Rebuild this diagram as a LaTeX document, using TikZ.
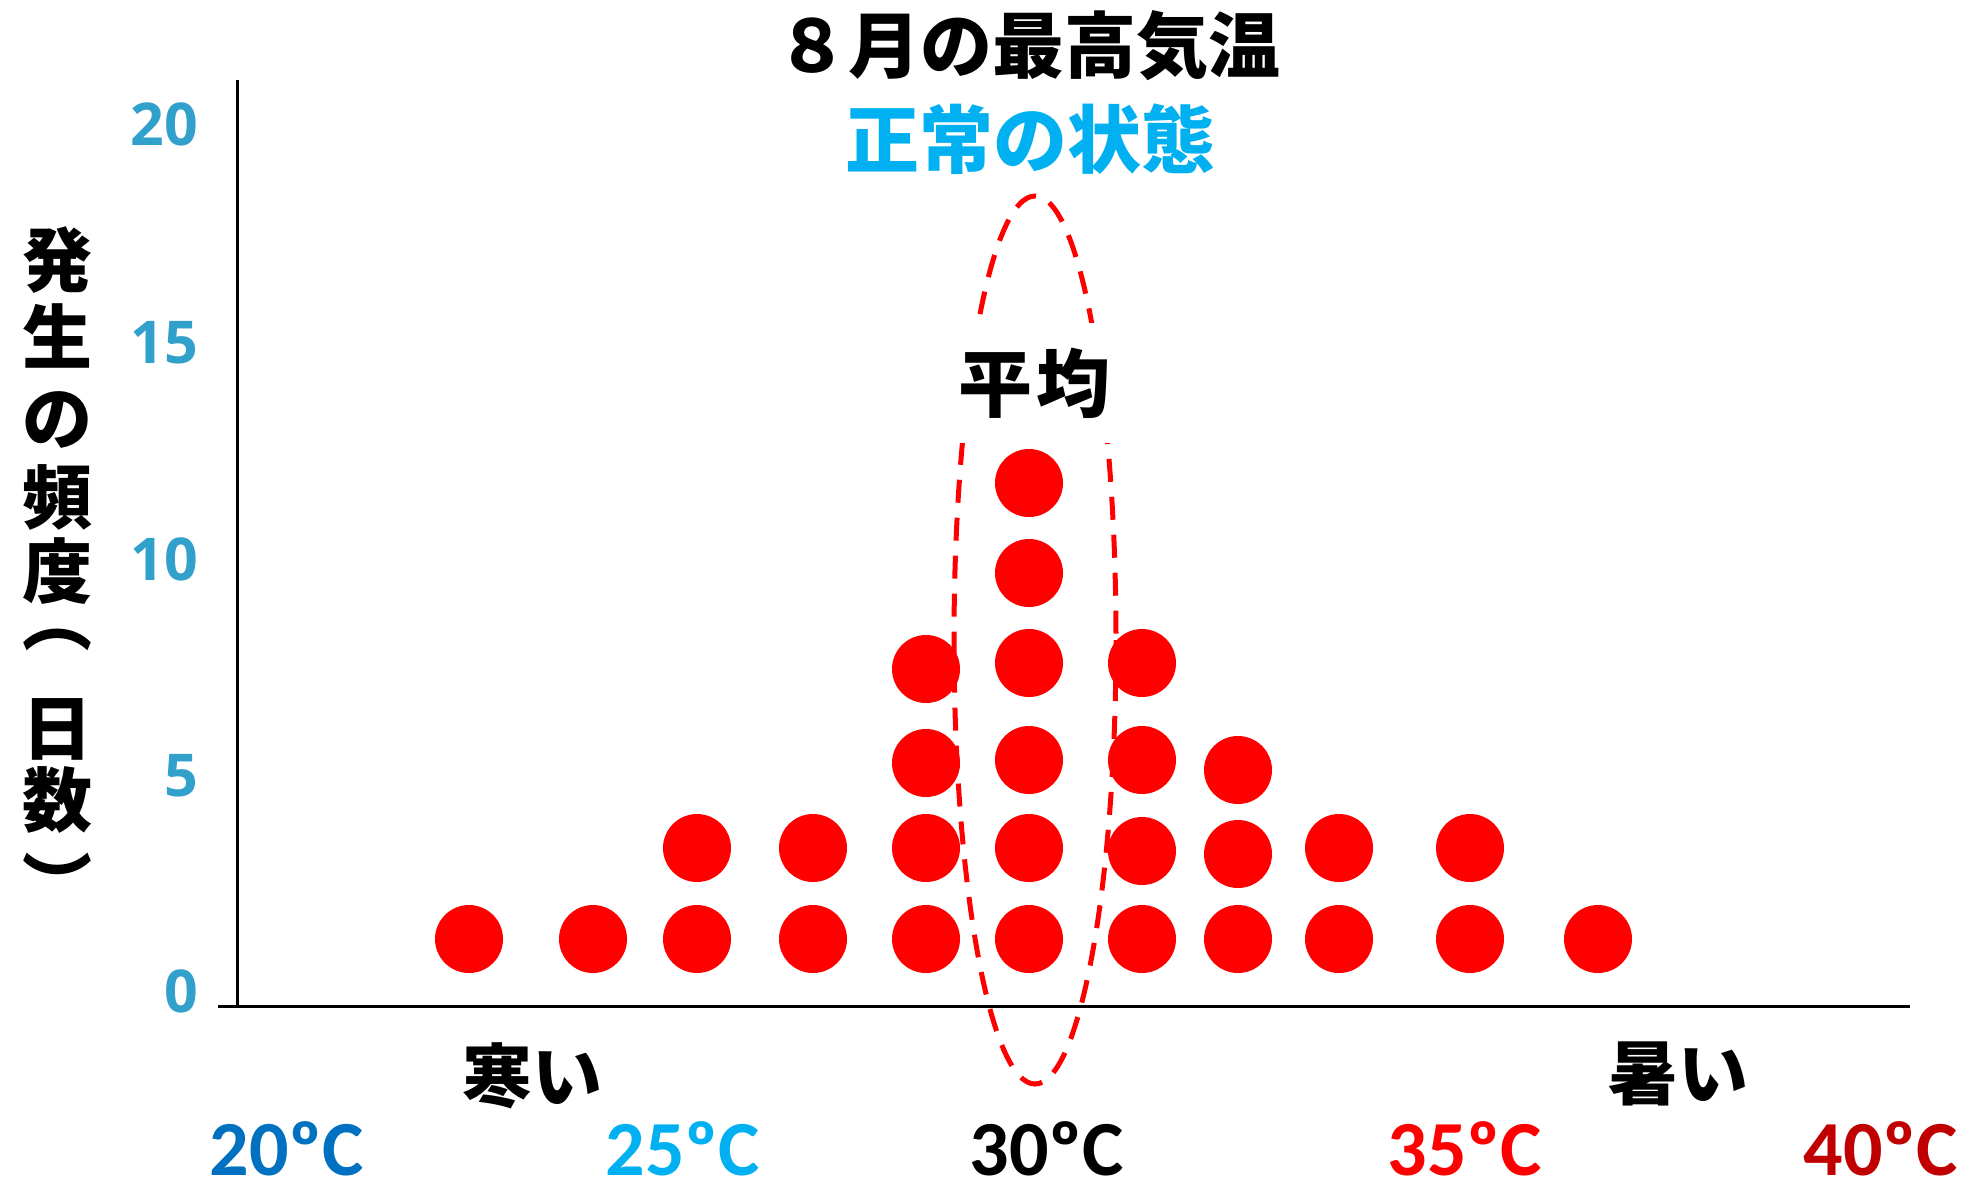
\documentclass[tikz,border=0pt]{standalone}
\usepackage{fontspec}
\newfontfamily\jp{Noto Sans CJK JP}
\newfontfamily\num{Carlito}
\newfontfamily\ticknum{Open Sans}
\definecolor{tickblue}{HTML}{31A0CB}
\definecolor{skycyan}{HTML}{00B0F0}
\definecolor{darkblue}{HTML}{0070C0}
\definecolor{darkred}{HTML}{C00000}
\definecolor{pure red}{HTML}{FF0000}
\tikzset{
  dot/.style={circle, fill=pure red, minimum size=68pt, inner sep=0pt},
  axisline/.style={line width=3pt, black},
  jptext/.style={font=\jp\bfseries\fontsize{72}{80}\selectfont, inner sep=0pt},
  ylab/.style={font=\jp\bfseries\fontsize{70}{78}\selectfont, inner sep=0pt, text height=61.6pt, text depth=8.4pt},
  ylabparen/.style={font=\jp\bfseries\fontsize{70}{78}\selectfont, inner sep=0pt, text height=30pt, text depth=0pt, anchor=base},
  ticklab/.style={font=\ticknum\bfseries\fontsize{59}{66}\selectfont, text=tickblue, anchor=east, inner sep=0pt},
  templab/.style={font=\num\bfseries\fontsize{78}{84}\selectfont, inner sep=0pt, anchor=base, text depth=0pt},
  meanring/.style={draw=pure red, line width=5pt, dash pattern=on 23pt off 15pt}
}
\begin{document}
\begin{tikzpicture}[x=1pt,y=-1pt]
\useasboundingbox (0,0) rectangle (1978,1192);
% dashed ellipse
\draw[meanring] (1035,640) ellipse [x radius=81, y radius=444];
% axes
\coordinate (ytop) at (237,80);
\coordinate (ybot) at (237,1006);
\coordinate (xl) at (218,1006);
\coordinate (xr) at (1910,1006);
\draw[axisline] (ytop) -- (ybot);
\draw[axisline] (xl) -- (xr);
% title
\node[jptext] (title) at (1028,46) {８月の最高気温};
\node[jptext, text=skycyan, font=\jp\bfseries\fontsize{74}{80}\selectfont] (state) at (1030,139) {正常の状態};
% tick labels
\node[ticklab] (t20) at (198,124) {20};
\node[ticklab] (t15) at (198,343) {15};
\node[ticklab] (t10) at (198,559) {10};
\node[ticklab] (t5) at (198,776) {5};
\node[ticklab] (t0) at (198,991) {0};
% y label (vertical)
\node[ylab] (yl1) at (57,260) {発};
\node[ylab] (yl2) at (57,337) {生};
\node[ylab] (yl3) at (57,418) {の};
\node[ylab] (yl4) at (57,497) {頻};
\node[ylab] (yl5) at (57,571) {度};
\node[ylabparen] (yl6) at (57,645) {︵};
\node[ylab] (yl7) at (57,728) {日};
\node[ylab] (yl8) at (57,800) {数};
\node[ylabparen] (yl9) at (57,911) {︶};
% dots
\foreach \x/\y [count=\i] in {469/939, 593/939,
  697/939, 697/848,
  813/939, 813/848,
  926/939, 926/848, 926/763, 926/669,
  1029/939, 1029/848, 1029/760, 1029/663, 1029/573, 1029/483,
  1142/939, 1142/851, 1142/760, 1142/663,
  1238/939, 1238/854, 1238/770,
  1339/939, 1339/848,
  1470/939, 1470/848,
  1598/939}
  \node[dot] (d\i) at (\x,\y) {};
% mean label
\node[jptext, fill=white, minimum width=160pt, minimum height=120pt, font=\jp\bfseries\fontsize{74}{80}\selectfont] (mean) at (1034,383) {平\hspace{4pt}均};
% cold / hot
\node[jptext, font=\jp\bfseries\fontsize{70}{80}\selectfont] (cold) at (532,1076) {寒い};
\node[jptext, font=\jp\bfseries\fontsize{70}{80}\selectfont] (hot) at (1678,1074) {暑い};
% temperature labels
\node[templab, text=darkblue] (c20) at (287,1175) {20ºC};
\node[templab, text=skycyan] (c25) at (683,1175) {25ºC};
\node[templab, text=black] (c30) at (1047,1175) {30ºC};
\node[templab, text=pure red] (c35) at (1465,1175) {35ºC};
\node[templab, text=darkred] (c40) at (1881,1175) {40ºC};
\end{tikzpicture}
\end{document}
